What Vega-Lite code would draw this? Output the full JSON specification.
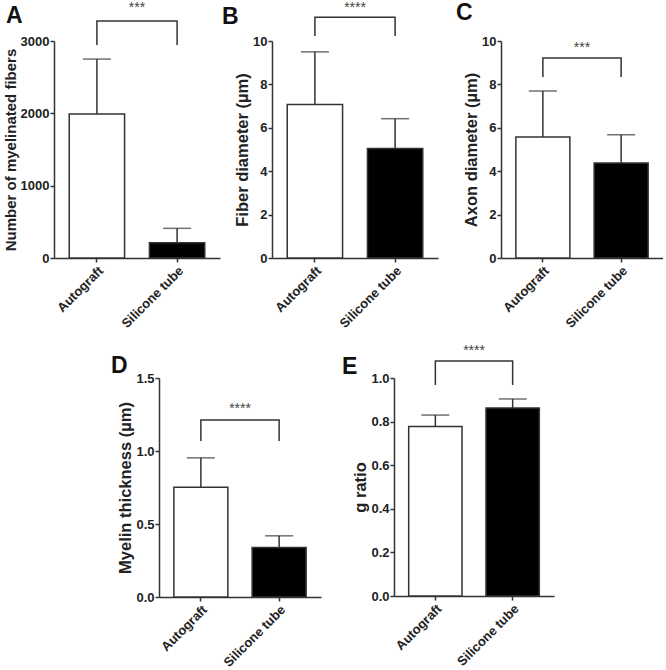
{
  "$schema": "https://vega.github.io/schema/vega-lite/v6.json",
  "padding": {"left": 3, "top": 0, "right": 0, "bottom": 0},
  "background": "white",
  "config": {
    "font": "Liberation Sans",
    "view": {"stroke": null},
    "axis": {
      "grid": false,
      "domainColor": "#333",
      "domainWidth": 1.5,
      "tickColor": "#333",
      "tickWidth": 1.5,
      "tickSize": 4,
      "labelFont": "Liberation Sans",
      "labelFontWeight": "bold",
      "labelFontSize": 13,
      "labelColor": "#222",
      "titleFont": "Liberation Sans",
      "titleFontWeight": "bold",
      "titleFontSize": 16.5,
      "titleColor": "#222"
    },
    "axisX": {"labelAngle": -45, "title": null, "labelPadding": 2, "labelFontSize": 13},
    "axisY": {"titlePadding": 2, "labelPadding": 1},
    "title": {"anchor": "start", "frame": "group", "fontSize": 23, "fontWeight": "bold", "color": "#111", "font": "Liberation Sans"}
  },
  "spacing": 13,
  "vconcat": [
    {
      "spacing": 2,
      "hconcat": [
        {
          "width": 166, "height": 217,
          "title": {"text": "A", "dx": -48, "offset": -27},
          "data": {"values": [
            {"group": "Autograft", "mean": 1990, "upper": 2750},
            {"group": "Silicone tube", "mean": 210, "upper": 410}
          ]},
          "encoding": {"x": {"field": "group", "type": "nominal", "sort": null, "scale": {"paddingInner": 0.31, "paddingOuter": 0.19}}},
          "layer": [
            {"mark": {"type": "rule", "color": "#333", "strokeWidth": 1.5},
             "encoding": {"y": {"field": "mean", "type": "quantitative", "scale": {"domain": [0, 3000], "nice": false}, "axis": {"title": "Number of myelinated fibers", "titleFontSize": 15, "values": [0, 1000, 2000, 3000], "format": "d"}}, "y2": {"field": "upper"}}},
            {"mark": {"type": "tick", "color": "#333", "size": 28, "thickness": 1.5},
             "encoding": {"y": {"field": "upper", "type": "quantitative"}}},
            {"mark": {"type": "bar", "stroke": "#333", "strokeWidth": 1.5},
             "encoding": {"y": {"field": "mean", "type": "quantitative"},
               "fill": {"field": "group", "type": "nominal", "scale": {"domain": ["Autograft", "Silicone tube"], "range": ["white", "black"]}, "legend": null}}},
            {"data": {"values": [
              {"group": "Autograft", "v": 2945, "o": 1},
              {"group": "Autograft", "v": 3276, "o": 2},
              {"group": "Silicone tube", "v": 3276, "o": 3},
              {"group": "Silicone tube", "v": 2945, "o": 4}
            ]},
             "mark": {"type": "line", "color": "#333", "strokeWidth": 1.5},
             "encoding": {"y": {"field": "v", "type": "quantitative"}, "order": {"field": "o"}}},
            {"data": {"values": [{"group": "Autograft", "v": 3400, "label": "***"}]},
             "mark": {"type": "text", "fontSize": 14, "color": "#444", "baseline": "alphabetic", "align": "center"},
             "encoding": {"x": {"field": "group", "type": "nominal", "bandPosition": 1.225}, "y": {"field": "v", "type": "quantitative"}, "text": {"field": "label"}}}
          ]
        },
        {
          "width": 166, "height": 217,
          "title": {"text": "B", "dx": -50, "offset": -28},
          "data": {"values": [
            {"group": "Autograft", "mean": 7.07, "upper": 9.5},
            {"group": "Silicone tube", "mean": 5.05, "upper": 6.42}
          ]},
          "encoding": {"x": {"field": "group", "type": "nominal", "sort": null, "scale": {"paddingInner": 0.31, "paddingOuter": 0.19}}},
          "layer": [
            {"mark": {"type": "rule", "color": "#333", "strokeWidth": 1.5},
             "encoding": {"y": {"field": "mean", "type": "quantitative", "scale": {"domain": [0, 10], "nice": false}, "axis": {"title": "Fiber diameter (µm)", "values": [0, 2, 4, 6, 8, 10]}}, "y2": {"field": "upper"}}},
            {"mark": {"type": "tick", "color": "#333", "size": 28, "thickness": 1.5},
             "encoding": {"y": {"field": "upper", "type": "quantitative"}}},
            {"mark": {"type": "bar", "stroke": "#333", "strokeWidth": 1.5},
             "encoding": {"y": {"field": "mean", "type": "quantitative"},
               "fill": {"field": "group", "type": "nominal", "scale": {"domain": ["Autograft", "Silicone tube"], "range": ["white", "black"]}, "legend": null}}},
            {"data": {"values": [
              {"group": "Autograft", "v": 10.23, "o": 1},
              {"group": "Autograft", "v": 11.1, "o": 2},
              {"group": "Silicone tube", "v": 11.1, "o": 3},
              {"group": "Silicone tube", "v": 10.23, "o": 4}
            ]},
             "mark": {"type": "line", "color": "#333", "strokeWidth": 1.5},
             "encoding": {"y": {"field": "v", "type": "quantitative"}, "order": {"field": "o"}}},
            {"data": {"values": [{"group": "Autograft", "v": 11.35, "label": "****"}]},
             "mark": {"type": "text", "fontSize": 14, "color": "#444", "baseline": "alphabetic", "align": "center"},
             "encoding": {"x": {"field": "group", "type": "nominal", "bandPosition": 1.225}, "y": {"field": "v", "type": "quantitative"}, "text": {"field": "label"}}}
          ]
        },
        {
          "width": 14, "height": 1,
          "data": {"values": [{"s": 0}]},
          "mark": {"type": "point", "opacity": 0},
          "encoding": {}
        },
        {
          "width": 162, "height": 217,
          "title": {"text": "C", "dx": -45, "offset": 10},
          "data": {"values": [
            {"group": "Autograft", "mean": 5.58, "upper": 7.7},
            {"group": "Silicone tube", "mean": 4.38, "upper": 5.68}
          ]},
          "encoding": {"x": {"field": "group", "type": "nominal", "sort": null, "scale": {"paddingInner": 0.31, "paddingOuter": 0.19}}},
          "layer": [
            {"mark": {"type": "rule", "color": "#333", "strokeWidth": 1.5},
             "encoding": {"y": {"field": "mean", "type": "quantitative", "scale": {"domain": [0, 10], "nice": false}, "axis": {"title": "Axon diameter (µm)", "values": [0, 2, 4, 6, 8, 10]}}, "y2": {"field": "upper"}}},
            {"mark": {"type": "tick", "color": "#333", "size": 28, "thickness": 1.5},
             "encoding": {"y": {"field": "upper", "type": "quantitative"}}},
            {"mark": {"type": "bar", "stroke": "#333", "strokeWidth": 1.5},
             "encoding": {"y": {"field": "mean", "type": "quantitative"},
               "fill": {"field": "group", "type": "nominal", "scale": {"domain": ["Autograft", "Silicone tube"], "range": ["white", "black"]}, "legend": null}}},
            {"data": {"values": [
              {"group": "Autograft", "v": 8.34, "o": 1},
              {"group": "Autograft", "v": 9.22, "o": 2},
              {"group": "Silicone tube", "v": 9.22, "o": 3},
              {"group": "Silicone tube", "v": 8.34, "o": 4}
            ]},
             "mark": {"type": "line", "color": "#333", "strokeWidth": 1.5},
             "encoding": {"y": {"field": "v", "type": "quantitative"}, "order": {"field": "o"}}},
            {"data": {"values": [{"group": "Autograft", "v": 9.5, "label": "***"}]},
             "mark": {"type": "text", "fontSize": 14, "color": "#444", "baseline": "alphabetic", "align": "center"},
             "encoding": {"x": {"field": "group", "type": "nominal", "bandPosition": 1.225}, "y": {"field": "v", "type": "quantitative"}, "text": {"field": "label"}}}
          ]
        }
      ]
    },
    {
      "spacing": 21,
      "hconcat": [
        {
          "width": 36, "height": 1,
          "data": {"values": [{"s": 0}]},
          "mark": {"type": "point", "opacity": 0},
          "encoding": {}
        },
        {
          "width": 162, "height": 219,
          "title": {"text": "D", "dx": -48, "offset": -6},
          "data": {"values": [
            {"group": "Autograft", "mean": 0.751, "upper": 0.953},
            {"group": "Silicone tube", "mean": 0.339, "upper": 0.419}
          ]},
          "encoding": {"x": {"field": "group", "type": "nominal", "sort": null, "scale": {"paddingInner": 0.31, "paddingOuter": 0.19}}},
          "layer": [
            {"mark": {"type": "rule", "color": "#333", "strokeWidth": 1.5},
             "encoding": {"y": {"field": "mean", "type": "quantitative", "scale": {"domain": [0, 1.5], "nice": false}, "axis": {"title": "Myelin thickness (µm)", "values": [0, 0.5, 1.0, 1.5], "format": ".1f"}}, "y2": {"field": "upper"}}},
            {"mark": {"type": "tick", "color": "#333", "size": 28, "thickness": 1.5},
             "encoding": {"y": {"field": "upper", "type": "quantitative"}}},
            {"mark": {"type": "bar", "stroke": "#333", "strokeWidth": 1.5},
             "encoding": {"y": {"field": "mean", "type": "quantitative"},
               "fill": {"field": "group", "type": "nominal", "scale": {"domain": ["Autograft", "Silicone tube"], "range": ["white", "black"]}, "legend": null}}},
            {"data": {"values": [
              {"group": "Autograft", "v": 1.068, "o": 1},
              {"group": "Autograft", "v": 1.212, "o": 2},
              {"group": "Silicone tube", "v": 1.212, "o": 3},
              {"group": "Silicone tube", "v": 1.068, "o": 4}
            ]},
             "mark": {"type": "line", "color": "#333", "strokeWidth": 1.5},
             "encoding": {"y": {"field": "v", "type": "quantitative"}, "order": {"field": "o"}}},
            {"data": {"values": [{"group": "Autograft", "v": 1.26, "label": "****"}]},
             "mark": {"type": "text", "fontSize": 14, "color": "#444", "baseline": "alphabetic", "align": "center"},
             "encoding": {"x": {"field": "group", "type": "nominal", "bandPosition": 1.225}, "y": {"field": "v", "type": "quantitative"}, "text": {"field": "label"}}}
          ]
        },
        {
          "width": 160, "height": 218,
          "title": {"text": "E", "dx": -52, "offset": -35},
          "data": {"values": [
            {"group": "Autograft", "mean": 0.777, "upper": 0.83},
            {"group": "Silicone tube", "mean": 0.862, "upper": 0.904}
          ]},
          "encoding": {"x": {"field": "group", "type": "nominal", "sort": null, "scale": {"paddingInner": 0.31, "paddingOuter": 0.19}}},
          "layer": [
            {"mark": {"type": "rule", "color": "#333", "strokeWidth": 1.5},
             "encoding": {"y": {"field": "mean", "type": "quantitative", "scale": {"domain": [0, 1.0], "nice": false}, "axis": {"title": "g ratio", "values": [0, 0.2, 0.4, 0.6, 0.8, 1.0], "format": ".1f"}}, "y2": {"field": "upper"}}},
            {"mark": {"type": "tick", "color": "#333", "size": 28, "thickness": 1.5},
             "encoding": {"y": {"field": "upper", "type": "quantitative"}}},
            {"mark": {"type": "bar", "stroke": "#333", "strokeWidth": 1.5},
             "encoding": {"y": {"field": "mean", "type": "quantitative"},
               "fill": {"field": "group", "type": "nominal", "scale": {"domain": ["Autograft", "Silicone tube"], "range": ["white", "black"]}, "legend": null}}},
            {"data": {"values": [
              {"group": "Autograft", "v": 0.968, "o": 1},
              {"group": "Autograft", "v": 1.078, "o": 2},
              {"group": "Silicone tube", "v": 1.078, "o": 3},
              {"group": "Silicone tube", "v": 0.968, "o": 4}
            ]},
             "mark": {"type": "line", "color": "#333", "strokeWidth": 1.5},
             "encoding": {"y": {"field": "v", "type": "quantitative"}, "order": {"field": "o"}}},
            {"data": {"values": [{"group": "Autograft", "v": 1.105, "label": "****"}]},
             "mark": {"type": "text", "fontSize": 14, "color": "#444", "baseline": "alphabetic", "align": "center"},
             "encoding": {"x": {"field": "group", "type": "nominal", "bandPosition": 1.225}, "y": {"field": "v", "type": "quantitative"}, "text": {"field": "label"}}}
          ]
        }
      ]
    }
  ]
}
